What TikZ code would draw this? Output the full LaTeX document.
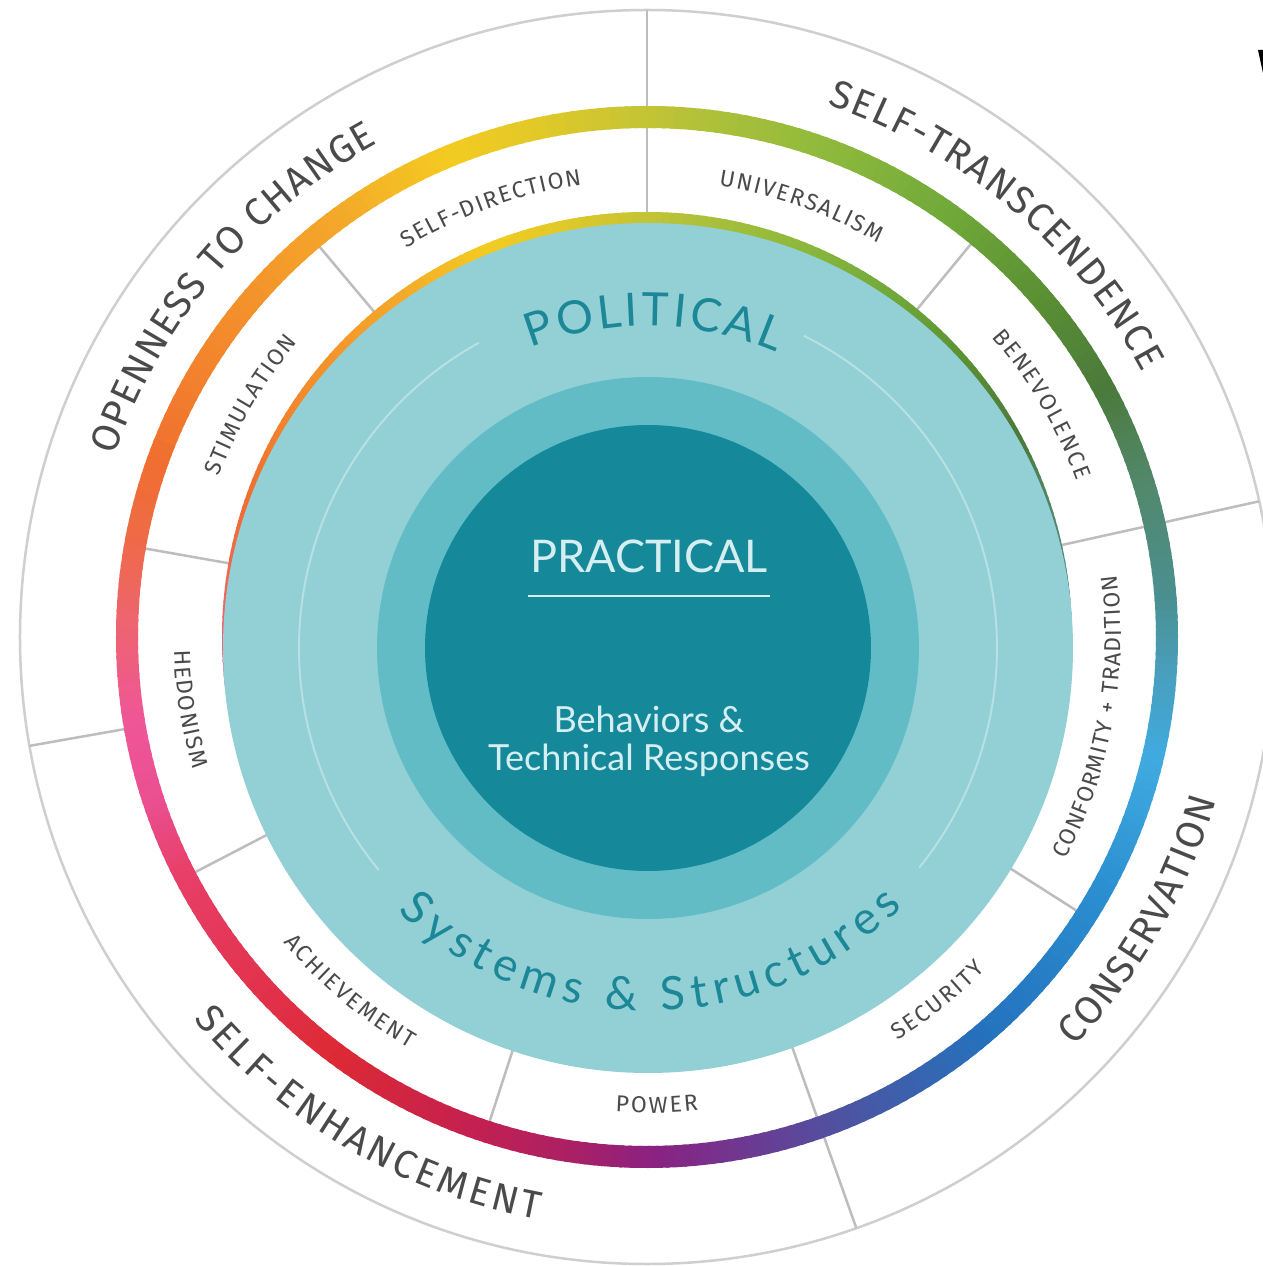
\documentclass[tikz,border=0pt]{standalone}
\usepackage{fontspec}
\usetikzlibrary{decorations.text}
\newfontfamily\labfont{Fira Sans}
\newfontfamily\cfont{Lato}
\definecolor{labc}{HTML}{4A4A4A}
\definecolor{ringg}{HTML}{CFCFCF}
\definecolor{lineg}{HTML}{BDBDBD}
\definecolor{tealA}{HTML}{93D0D6}
\definecolor{tealB}{HTML}{62BCC6}
\definecolor{tealC}{HTML}{15899A}
\definecolor{tealtext}{HTML}{1B8797}
\definecolor{ctext}{HTML}{D5EEF1}
\definecolor{arcw}{HTML}{B7E0E4}
% gradient stops
\definecolor{g00}{HTML}{8B2182}
\definecolor{g01}{HTML}{4A56A3}
\definecolor{g02}{HTML}{2472BD}
\definecolor{g03}{HTML}{2A8ED0}
\definecolor{g04}{HTML}{40AAE0}
\definecolor{g05}{HTML}{48A0C0}
\definecolor{g06}{HTML}{4A8F90}
\definecolor{g07}{HTML}{52886A}
\definecolor{g08}{HTML}{4B7A3C}
\definecolor{g09}{HTML}{5A8F33}
\definecolor{g10}{HTML}{72AA3A}
\definecolor{g11}{HTML}{90BA3C}
\definecolor{g12}{HTML}{ACC03A}
\definecolor{g13}{HTML}{C5C434}
\definecolor{g14}{HTML}{E2C928}
\definecolor{g15}{HTML}{F3CB20}
\definecolor{g16}{HTML}{F4A82A}
\definecolor{g17}{HTML}{F3892C}
\definecolor{g18}{HTML}{F06E30}
\definecolor{g19}{HTML}{EF6A45}
\definecolor{g20}{HTML}{EE6470}
\definecolor{g21}{HTML}{EF5698}
\definecolor{g22}{HTML}{EA4F90}
\definecolor{g23}{HTML}{E8406A}
\definecolor{g24}{HTML}{E2324C}
\definecolor{g25}{HTML}{DC2A35}
\definecolor{g26}{HTML}{C42050}
\definecolor{g27}{HTML}{A82066}
\begin{document}
\begin{tikzpicture}[x=1pt,y=1pt,
  divline/.style={draw=lineg, line width=2.5pt},
  outerlab/.style={decorate, decoration={text along path, text align={fit to path}, text color=labc,
     text={|\labfont\fontsize{39}{39}\selectfont|#1}}},
  innerlab/.style={decorate, decoration={text along path, text align={fit to path}, text color=labc,
     text={|\labfont\fontsize{23}{23}\selectfont|#1}}},
  teallab/.style={decorate, decoration={text along path, text align={fit to path}, text color=tealtext,
     text={|\cfont\fontsize{46}{46}\selectfont|#1}}},
  centertext/.style={text=ctext, font=\cfont, align=center, inner sep=0pt}
]
\useasboundingbox (-647,-629) rectangle (616,637);
\fill[white] (-647,-629) rectangle (616,637);

% outer circle and division lines
\draw[draw=ringg, line width=2.5pt] (0,0) circle[radius=627pt];
\foreach \t in {90,12.5,-70.5} \draw[divline] (\t:420pt) -- (\t:627pt);
\foreach \t in {130,170,207.5,252,-32.5,50.5} \draw[divline] (\t:420pt) -- (\t:520pt);
\draw[divline] (190:520pt) -- (190:627pt);

% gradient ring and crescent
\foreach \a/\b/\ca/\cb in {-90/-67/g00/g01,-67/-50/g01/g02,-50/-30/g02/g03,-30/-14/g03/g04,
  -14/-5/g04/g05,-5/4/g05/g06,4/17/g06/g07,17/28/g07/g08,28/40/g08/g09,40/55/g09/g10,
  55/70/g10/g11,70/82/g11/g12,82/90/g12/g13,90/102/g13/g14,102/112/g14/g15,112/126/g15/g16,
  126/145/g16/g17,145/160/g17/g18,160/168/g18/g19,168/178/g19/g20,178/189/g20/g21,
  189/198/g21/g22,198/206/g22/g23,206/222/g23/g24,222/233/g24/g25,233/250/g25/g26,
  250/262/g26/g27,262/270/g27/g00} {
  \pgfmathtruncatemacro\n{\b-\a-1}
  \foreach \i in {0,...,\n} {
    \pgfmathsetmacro\s{\a+\i}
    \pgfmathsetmacro\e{\a+\i+1.4}
    \pgfmathtruncatemacro\p{round(100*\i/(\b-\a))}
    \colorlet{segc}{\cb!\p!\ca}
    \fill[segc] (\s:531pt) arc[start angle=\s, end angle=\e, radius=531pt]
       -- (\e:509pt) arc[start angle=\e, end angle=\s, radius=509pt] -- cycle;
    \fill[segc] (0,0) -- (\s:425pt) arc[start angle=\s, end angle=\e, radius=425pt] -- cycle;
  }
}

% teal discs
\begin{scope}[shift={(1,-11)}]
  \fill[tealA] (0,0) circle[radius=425pt];
  \draw[arcw, line width=2pt] (119:349pt) arc[start angle=119, end angle=219.5, radius=349pt];
  \draw[arcw, line width=2pt] (63.5:349pt) arc[start angle=63.5, end angle=-39, radius=349pt];
  \fill[tealB] (0,0) circle[radius=271pt];
  \fill[tealC] (0,0) circle[radius=223pt];
  \path[teallab={POLITICAL}] (111.3:322pt) arc[start angle=111.3, end angle=66.5, radius=322pt];
  \path[teallab={Systems {\&} Structures}] (226.5:363pt) arc[start angle=226.5, end angle=314.5, radius=363pt];
\end{scope}

% outer labels
\path[outerlab={OPENNESS TO CHANGE}] (161.2:562pt) arc[start angle=161.2, end angle=118.6, radius=562pt];
\path[outerlab={SELF-TRANSCENDENCE}] (71.3:562pt) arc[start angle=71.3, end angle=28.1, radius=562pt];
\path[outerlab={SELF-ENHANCEMENT}] (220.1:593pt) arc[start angle=220.1, end angle=259.4, radius=593pt];
\path[outerlab={CONSERVATION}] (316.2:592pt) arc[start angle=316.2, end angle=344, radius=592pt];

% inner labels
\path[innerlab={SELF-DIRECTION}] (121.7:457pt) arc[start angle=121.7, end angle=98.2, radius=457pt];
\path[innerlab={UNIVERSALISM}] (81:457pt) arc[start angle=81, end angle=59.6, radius=457pt];
\path[innerlab={STIMULATION}] (159.5:457pt) arc[start angle=159.5, end angle=139.8, radius=457pt];
\path[innerlab={BENEVOLENCE}] (41:457pt) arc[start angle=41, end angle=20, radius=457pt];
\path[innerlab={CONFORMITY + TRADITION}] (332:474pt) arc[start angle=332, end angle=367.5, radius=474pt];
\path[innerlab={HEDONISM}] (181.6:473pt) arc[start angle=181.6, end angle=196.3, radius=473pt];
\path[innerlab={ACHIEVEMENT}] (220:475pt) arc[start angle=220, end angle=240, radius=475pt];
\path[innerlab={POWER}] (266.2:476pt) arc[start angle=266.2, end angle=276.2, radius=476pt];
\path[innerlab={SECURITY}] (301.8:475pt) arc[start angle=301.8, end angle=315.5, radius=475pt];

% center texts
\node[centertext, font=\cfont\fontsize{45}{45}\selectfont] (prac) at (2,81) {PRACTICAL};
\coordinate (ulL) at (-119,41);
\coordinate (ulR) at (123,41);
\draw[ctext, line width=2pt] (ulL) -- (ulR);
\node[centertext, font=\cfont\fontsize{36}{38}\selectfont] (beh) at (2,-104) {Behaviors \&\\Technical Responses};

% cut-off glyph at top right
\fill[black] (611,587) -- (616,587) -- (616,564) -- cycle;
\end{tikzpicture}
\end{document}
